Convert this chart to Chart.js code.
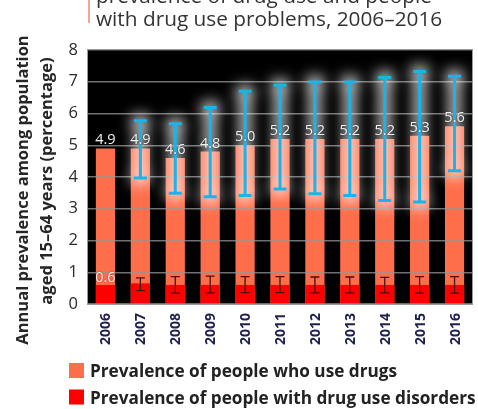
<!DOCTYPE html>
<html>
<head>
<meta charset="utf-8">
<script src="https://cdn.jsdelivr.net/npm/chart.js@4.4.1/dist/chart.umd.min.js"></script>
<style>
  html, body { margin: 0; padding: 0; background: #fff; }
  #wrap { position: relative; width: 478px; height: 409px; overflow: hidden; }
  canvas { display: block; }
  .year {
    position: absolute;
    font: bold 14px "Open Sans", "Noto Sans", sans-serif;
    color: #1f1f50;
    line-height: 1;
    white-space: nowrap;
    writing-mode: vertical-rl;
    transform: translateX(-50%) rotate(180deg);
  }
</style>
</head>
<body>
<div id="wrap"><canvas id="chart" width="478" height="409"></canvas></div>
<script>
// Years on the horizontal axis
const years = ['2006', '2007', '2008', '2009', '2010', '2011', '2012', '2013', '2014', '2015', '2016'];

// Prevalence of people who use drugs (%), best estimate and range
const useDrugs     = [4.9, 4.9, 4.6, 4.8, 5.0, 5.2, 5.2, 5.2, 5.2, 5.3, 5.6];
const useDrugsLow  = [null, 3.97, 3.49, 3.38, 3.42, 3.62, 3.47, 3.42, 3.26, 3.21, 4.20];
const useDrugsHigh = [null, 5.77, 5.68, 6.19, 6.70, 6.89, 6.99, 6.99, 7.13, 7.32, 7.17];

// Prevalence of people with drug use disorders (%), best estimate and range
const disorders     = [0.6, 0.65, 0.6, 0.6, 0.6, 0.6, 0.6, 0.6, 0.6, 0.6, 0.6];
const disordersLow  = [null, 0.42, 0.34, 0.35, 0.36, 0.36, 0.35, 0.35, 0.35, 0.34, 0.34];
const disordersHigh = [null, 0.82, 0.86, 0.88, 0.86, 0.86, 0.85, 0.85, 0.84, 0.86, 0.86];

// Which bars carry a value label
const useDrugsLabelled  = [true, true, true, true, true, true, true, true, true, true, true];
const disordersLabelled = [true, false, false, false, false, false, false, false, false, false, false];

// Axis scale
const yMin = 0, yMax = 8, yStep = 1;

// Texts
const titleLines  = ['prevalence of drug use and people', 'with drug use problems, 2006\u20132016'];
const yTitleLines = ['Annual prevalence among population', 'aged 15\u201364 years (percentage)'];
const seriesNames = ['Prevalence of people who use drugs', 'Prevalence of people with drug use disorders'];

const ORANGE = '#ff6e4b';
const RED = '#ff0000';
const BLUE = '#1ab3ea';
const DARK = '#4a0e0e';
const FONT = '"Open Sans", "Noto Sans", sans-serif';

function drawText(ctx, text, x, y, font, color, align) {
  ctx.save();
  ctx.font = font;
  ctx.fillStyle = color;
  ctx.textAlign = align || 'left';
  ctx.textBaseline = 'alphabetic';
  ctx.fillText(text, x, y);
  ctx.restore();
}

// Text turned a quarter turn so it reads upwards, centred on (x, y)
function drawRotated(ctx, text, x, y, font, color) {
  ctx.save();
  ctx.translate(x, y);
  ctx.rotate(-Math.PI / 2);
  ctx.font = font;
  ctx.fillStyle = color;
  ctx.textAlign = 'center';
  ctx.textBaseline = 'middle';
  ctx.fillText(text, 0, 0);
  ctx.restore();
}

// Black plot panel, header text and accent rule
const backdrop = {
  id: 'backdrop',
  beforeDraw(chart) {
    const { ctx, chartArea: a } = chart;
    ctx.save();
    ctx.fillStyle = '#fff';
    ctx.fillRect(0, 0, chart.width, chart.height);
    ctx.fillStyle = '#000';
    ctx.fillRect(a.left, a.top, a.right - a.left, a.bottom - a.top);
    ctx.strokeStyle = '#9a9a9a';
    ctx.lineWidth = 1;
    ctx.strokeRect(a.left - 0.5, a.top - 0.5, a.right - a.left + 1, a.bottom - a.top + 1);
    // accent rule beside the header
    ctx.fillStyle = '#f5a594';
    ctx.fillRect(a.left, 0, 2, 23);
    ctx.restore();
    drawText(ctx, titleLines[0], a.left + 8, 3, '20.8px ' + FONT, '#333');
    drawText(ctx, titleLines[1], a.left + 8, 26, '20.8px ' + FONT, '#333');
  }
};

// Range whiskers, value labels, axis title and legend
const overlay = {
  id: 'overlay',
  afterDraw(chart) {
    const { ctx, chartArea: a } = chart;
    const y = chart.scales.y;
    const metaUse = chart.getDatasetMeta(0);
    const metaDis = chart.getDatasetMeta(1);

    function whisker(px, lo, hi, color, lw, half) {
      const y1 = y.getPixelForValue(lo), y2 = y.getPixelForValue(hi);
      ctx.beginPath();
      ctx.moveTo(px, y1); ctx.lineTo(px, y2);
      ctx.moveTo(px - half, y1); ctx.lineTo(px + half, y1);
      ctx.moveTo(px - half, y2); ctx.lineTo(px + half, y2);
      ctx.strokeStyle = color;
      ctx.lineWidth = lw;
      ctx.stroke();
    }

    // soft white glow behind the blue whiskers
    ctx.save();
    ctx.beginPath();
    ctx.rect(a.left, a.top - 12, a.right - a.left, a.bottom - a.top + 12);
    ctx.clip();
    ctx.filter = 'blur(7px)';
    ctx.globalAlpha = 0.8;
    useDrugs.forEach((v, i) => {
      if (useDrugsLow[i] == null) return;
      whisker(metaUse.data[i].x, useDrugsLow[i], useDrugsHigh[i], '#ffffff', 12, 9);
    });
    ctx.restore();

    ctx.save();
    useDrugs.forEach((v, i) => {
      if (useDrugsLow[i] == null) return;
      whisker(metaUse.data[i].x, useDrugsLow[i], useDrugsHigh[i], BLUE, 3, 6.5);
    });
    disorders.forEach((v, i) => {
      if (disordersLow[i] == null) return;
      whisker(metaDis.data[i].x, disordersLow[i], disordersHigh[i], DARK, 1.3, 4.5);
    });
    ctx.restore();

    // value labels
    ctx.save();
    ctx.shadowColor = 'rgba(0,0,0,0.55)';
    ctx.shadowBlur = 2;
    useDrugs.forEach((v, i) => {
      if (!useDrugsLabelled[i]) return;
      const bar = metaUse.data[i];
      drawText(ctx, v.toFixed(1), bar.x, bar.y - 4, '14.5px ' + FONT, '#f2f2f2', 'center');
    });
    disorders.forEach((v, i) => {
      if (!disordersLabelled[i]) return;
      const bar = metaDis.data[i];
      drawText(ctx, v.toFixed(1), bar.x, bar.y - 3, '14.5px ' + FONT, '#ffe6de', 'center');
    });
    ctx.restore();

    // rotated y-axis title
    drawRotated(ctx, yTitleLines[0], 23, 190, 'bold 16.5px ' + FONT, '#262626');
    drawRotated(ctx, yTitleLines[1], 47, 181, 'bold 16.5px ' + FONT, '#262626');

    // legend
    const colors = [ORANGE, RED];
    seriesNames.forEach((name, k) => {
      const top = 363 + k * 26.5;
      ctx.fillStyle = colors[k];
      ctx.fillRect(69, top, 15, 15);
      drawText(ctx, name, 90, top + 14, 'bold 17.2px ' + FONT, '#222');
    });
  }
};

const chart = new Chart(document.getElementById('chart'), {
  type: 'bar',
  data: {
    labels: years,
    datasets: [
      { label: seriesNames[0], data: useDrugs, backgroundColor: ORANGE, borderWidth: 0, order: 2 },
      { label: seriesNames[1], data: disorders, backgroundColor: RED, borderWidth: 0, order: 1 }
    ]
  },
  options: {
    responsive: false,
    devicePixelRatio: 1,
    animation: false,
    events: [],
    layout: { padding: { left: 0, right: 6, top: 50, bottom: 0 } },
    datasets: { bar: { categoryPercentage: 1, barPercentage: 0.55, grouped: false } },
    plugins: { legend: { display: false }, tooltip: { enabled: false }, title: { display: false } },
    scales: {
      x: {
        grid: { display: false, drawTicks: false },
        border: { display: false },
        ticks: { display: false },
        afterFit(scale) { scale.height = 105; }
      },
      y: {
        min: yMin, max: yMax,
        grid: { color: 'rgba(150,150,150,0.75)', lineWidth: 1.5, drawTicks: false, z: 1 },
        border: { display: false },
        ticks: {
          stepSize: yStep, padding: 10,
          color: '#2b2b2b',
          font: { family: FONT, size: 16.5 }
        },
        afterFit(scale) { scale.width = 88; }
      }
    }
  },
  plugins: [backdrop, overlay]
});

// Year labels under the plot, set vertically at the category scale's tick positions
(function placeYears() {
  const wrap = document.getElementById('wrap');
  const xs = chart.scales.x;
  const bottom = chart.chartArea.bottom;
  years.forEach((label, i) => {
    const el = document.createElement('div');
    el.className = 'year';
    el.textContent = label;
    el.style.left = xs.getPixelForTick(i) + 'px';
    el.style.top = (bottom + 9) + 'px';
    wrap.appendChild(el);
  });
})();
</script>
</body>
</html>
